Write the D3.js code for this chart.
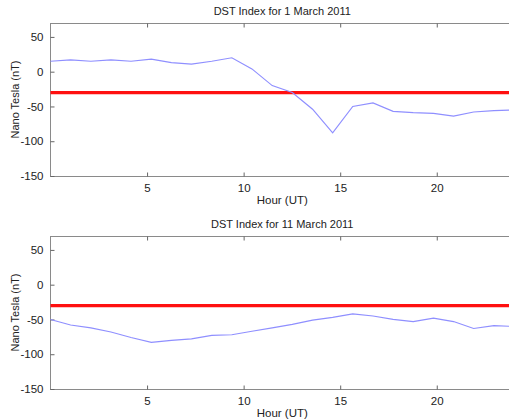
<!DOCTYPE html>
<html><head><meta charset="utf-8">
<script src="https://cdn.jsdelivr.net/npm/d3@7"></script>
<style>
body{margin:0;background:#fff;}
svg{display:block;font-family:"Liberation Sans",Arial,sans-serif;}
</style></head>
<body>
<script>
// ---- data ----
const hours = [0, 1.04, 2.09, 3.13, 4.17, 5.22, 6.26, 7.30, 8.35, 9.39, 10.43, 11.48,
               12.52, 13.57, 14.61, 15.65, 16.70, 17.74, 18.78, 19.83, 20.87, 21.91, 22.96, 24];
const dstMar1 = [15, 17, 15, 17, 15, 18, 13, 11, 15, 20, 4, -20,
                 -30, -54, -88, -50, -45, -57, -59, -60, -64, -58, -56, -55];
const dstMar11 = [-50, -58, -62, -68, -76, -83, -80, -78, -73, -72, -67, -62,
                  -57, -51, -47, -42, -45, -50, -53, -48, -53, -63, -59, -60];
const threshold = -30;
const titles = ["DST Index for 1 March 2011", "DST Index for 11 March 2011"];
const xTicks = [5, 10, 15, 20];
const yTicks = [-150, -100, -50, 0, 50];
const xLabel = "Hour (UT)";
const yLabel = "Nano Tesla (nT)";

const W = 509, H = 419;
const svg = d3.select("body").append("svg").attr("width", W).attr("height", H);

const left = 50.5, right = 514;
const panels = [
  {top: 23, bottom: 176, values: dstMar1, title: titles[0]},
  {top: 236, bottom: 389, values: dstMar11, title: titles[1]}
];

panels.forEach(p => {
  const x = d3.scaleLinear().domain([0, 24]).range([left, right]);
  const y = d3.scaleLinear().domain([-150, 70]).range([p.bottom, p.top]);
  const g = svg.append("g");

  // frame
  g.append("rect").attr("x", left).attr("y", p.top + 0.5)
    .attr("width", right - left).attr("height", p.bottom - p.top)
    .attr("fill", "none").attr("stroke", "#8a8a8a").attr("stroke-width", 1);

  const fmt = d => d;
  // bottom axis
  const ax = g.append("g").attr("transform", `translate(0,${p.bottom + 0.5})`)
    .call(d3.axisBottom(x).tickValues(xTicks).tickSize(-4).tickPadding(7).tickFormat(fmt));
  // top axis ticks
  const axTop = g.append("g").attr("transform", `translate(0,${p.top + 0.5})`)
    .call(d3.axisTop(x).tickValues(xTicks).tickSize(-4).tickFormat(""));
  // left axis
  const ay = g.append("g").attr("transform", `translate(${left},0)`)
    .call(d3.axisLeft(y).tickValues(yTicks).tickSize(-4).tickPadding(7).tickFormat(fmt));
  const ayR = g.append("g").attr("transform", `translate(${right},0)`)
    .call(d3.axisRight(y).tickValues(yTicks).tickSize(-4).tickFormat(""));
  [ax, axTop, ay, ayR].forEach(a => {
    a.select(".domain").remove();
    a.selectAll(".tick line").attr("stroke", "#666");
    a.selectAll("text").attr("fill", "#222").style("font-size", "11.5px");
  });

  // threshold line
  g.append("line").attr("x1", left).attr("x2", right)
    .attr("y1", y(threshold)).attr("y2", y(threshold))
    .attr("stroke", "#ff1010").attr("stroke-width", 3.2);

  // data line
  const line = d3.line().x((d, i) => x(hours[i])).y(d => y(d));
  g.append("path").datum(p.values).attr("d", line)
    .attr("fill", "none").attr("stroke", "#8f8fff").attr("stroke-width", 1.2);

  // title
  g.append("text").attr("x", (left + right) / 2).attr("y", p.top - 8)
    .attr("text-anchor", "middle").attr("fill", "#222").style("font-size", "11px")
    .text(p.title);
  // x label
  g.append("text").attr("x", (left + right) / 2).attr("y", p.bottom + 28)
    .attr("text-anchor", "middle").attr("fill", "#222").style("font-size", "11.5px")
    .text(xLabel);
  // y label
  g.append("text").attr("transform", `translate(19,${(p.top + p.bottom) / 2}) rotate(-90)`)
    .attr("text-anchor", "middle").attr("fill", "#222").style("font-size", "11px")
    .text(yLabel);
});
</script>
</body></html>
